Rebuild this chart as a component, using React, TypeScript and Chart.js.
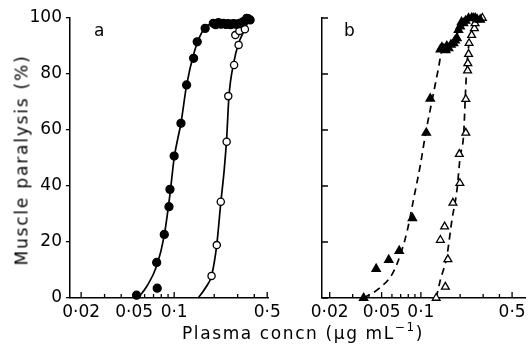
import React, { useEffect, useRef } from 'react';
import { Chart, registerables } from 'chart.js';
Chart.register(...registerables);

const FONT = "'DejaVu Sans', 'Liberation Sans', sans-serif";

// ---- axis ticks ----
const majorXTicks = [0.02, 0.05, 0.1, 0.5];
const majorXLabels = ['0·02', '0·05', '0·1', '0·5'];
const minorXTicks = [0.03, 0.04, 0.06, 0.07, 0.08, 0.09, 0.2, 0.3, 0.4];
const yTicks = [0, 20, 40, 60, 80, 100];
const aXRange = [0.0165, 0.507];
const bXRange = [0.01746, 0.638];

// ---- panel a : filled circles ----
const aFilledX = [0.0522, 0.0746, 0.0739, 0.0843, 0.0914, 0.093, 0.1, 0.1125, 0.124, 0.14, 0.149, 0.171, 0.197, 0.205, 0.215, 0.225, 0.234, 0.245, 0.255, 0.265, 0.278, 0.29, 0.303, 0.315, 0.331, 0.351, 0.372];
const aFilledY = [1, 3.5, 12.7, 22.7, 32.6, 38.8, 50.7, 62.4, 76.1, 85.6, 91.5, 96.3, 98.1, 97.6, 98.3, 97.8, 98.1, 97.7, 98, 97.6, 98, 97.8, 97.9, 98.2, 98.7, 99.9, 99.3];
// ---- panel a : open circles ----
const aOpenX = [0.191, 0.209, 0.224, 0.248, 0.255, 0.282, 0.288, 0.305, 0.309, 0.34, 0.36];
const aOpenY = [7.9, 18.9, 34.4, 55.8, 72.1, 83.2, 93.9, 90.4, 95.4, 96, 99.9];
// ---- panel a : fitted curves ----
const aFilledCurveX = [0.0535, 0.062, 0.074, 0.084, 0.093, 0.1, 0.113, 0.124, 0.142, 0.16, 0.18, 0.22, 0.3, 0.37];
const aFilledCurveY = [0, 4, 11.5, 22, 37, 50, 63, 76, 88, 94.5, 97.5, 98, 98.3, 100];
const aOpenCurveX = [0.152, 0.171, 0.191, 0.209, 0.224, 0.238, 0.248, 0.258, 0.28, 0.305, 0.34, 0.365];
const aOpenCurveY = [0, 3.5, 8, 19, 34, 46, 57, 72, 84, 91, 96, 99.5];

// ---- panel b : filled triangles ----
const bFilledX = [0.0364, 0.0454, 0.0567, 0.0682, 0.0861, 0.11, 0.118, 0.141, 0.145, 0.15, 0.155, 0.158, 0.163, 0.17, 0.178, 0.183, 0.189, 0.194, 0.2, 0.205, 0.212, 0.22, 0.232, 0.245, 0.252, 0.261, 0.27, 0.285];
const bFilledY = [0, 10.4, 13.6, 16.8, 28.5, 59, 71.2, 88.8, 89.5, 89, 88.5, 90, 89.2, 90.5, 91, 92, 92.8, 95.7, 97, 98.5, 98.1, 99, 99.9, 100, 100, 100, 99.5, 99.4];
// ---- panel b : open triangles ----
const bOpenX = [0.131, 0.154, 0.161, 0.141, 0.152, 0.176, 0.199, 0.197, 0.221, 0.221, 0.228, 0.229, 0.232, 0.234, 0.245, 0.257, 0.26, 0.296];
const bOpenY = [0, 4, 13.8, 20.7, 25.5, 34, 41, 51.4, 59, 71, 81.2, 83.8, 87.1, 91, 93.9, 96.3, 98.1, 100];
// ---- panel b : fitted dashed curves ----
const bFilledCurveX = [0.0364, 0.0481, 0.0607, 0.0703, 0.0788, 0.0887, 0.0995, 0.1087, 0.122, 0.137, 0.145, 0.17, 0.2, 0.23, 0.26];
const bFilledCurveY = [0, 3.5, 8.8, 16, 24.3, 36.2, 48, 58.8, 70.7, 82.6, 88.6, 91, 96, 99, 100];
const bOpenCurveX = [0.131, 0.141, 0.158, 0.173, 0.189, 0.2, 0.213, 0.219, 0.225, 0.234, 0.26, 0.296];
const bOpenCurveY = [0, 6.4, 14.8, 27.9, 38.6, 50.5, 58.8, 71.9, 82.6, 91, 98, 100];

const pts = (xs: number[], ys: number[]) => xs.map((x, i) => ({ x, y: ys[i] }));

const innerTicks = {
  id: 'innerTicks',
  afterDraw(chart: any, _args: any, opts: any) {
    const { ctx, chartArea } = chart;
    const xs = chart.scales.x;
    const ys = chart.scales.y;
    ctx.save();
    ctx.strokeStyle = '#000';
    ctx.lineWidth = 1.3;
    ctx.beginPath();
    xs.ticks.forEach((t: any) => {
      const px = xs.getPixelForValue(t.value);
      const len = majorXTicks.includes(t.value) ? 6 : 4;
      ctx.moveTo(px, chartArea.bottom);
      ctx.lineTo(px, chartArea.bottom - len);
    });
    if (opts && opts.yInside) {
      ys.ticks.forEach((t: any) => {
        const py = ys.getPixelForValue(t.value);
        ctx.moveTo(chartArea.left, py);
        ctx.lineTo(chartArea.left + 6, py);
      });
    }
    ctx.stroke();
    ctx.restore();
  },
};

function makeOptions(range: number[], showY: boolean, yWidth: number, padRight: number) {
  return {
    animation: false,
    responsive: false,
    maintainAspectRatio: false,
    layout: { padding: { left: 0, right: padRight, top: 18, bottom: 22 } },
    plugins: {
      legend: { display: false },
      tooltip: { enabled: false },
      innerTicks: { yInside: !showY },
    },
    scales: {
      x: {
        type: 'logarithmic',
        min: range[0],
        max: range[1],
        grid: { display: false, drawTicks: false },
        border: { display: true, color: '#000', width: 1.5 },
        ticks: {
          autoSkip: false,
          maxRotation: 0,
          padding: 4,
          color: '#000',
          font: { family: FONT, size: 17 },
          callback: (v: number) => {
            const i = majorXTicks.findIndex((m) => Math.abs(m - v) < 1e-9);
            return i >= 0 ? majorXLabels[i] : '';
          },
        },
        afterBuildTicks: (s: any) => {
          s.ticks = [...majorXTicks, ...minorXTicks].sort((p, q) => p - q).map((v) => ({ value: v }));
        },
        afterFit: (s: any) => {
          s.height = 30;
        },
      },
      y: {
        min: 0,
        max: 100,
        afterBuildTicks: (s: any) => {
          s.ticks = yTicks.map((v) => ({ value: v }));
        },
        grid: { drawOnChartArea: false, drawTicks: showY, tickLength: 4, color: '#000', lineWidth: 1.3 },
        border: { display: true, color: '#000', width: 1.5 },
        ticks: {
          display: showY,
          padding: 4,
          color: '#000',
          font: { family: FONT, size: 17 },
        },
        afterFit: (s: any) => {
          s.width = yWidth;
        },
      },
    },
  } as any;
}

const pointSet = (data: any[], style: string, filled: boolean, radius: number) => ({
  data,
  showLine: false,
  pointStyle: style,
  pointRadius: radius,
  pointBackgroundColor: filled ? '#000' : '#fff',
  pointBorderColor: '#000',
  pointBorderWidth: 1.3,
  clip: false,
  order: 0,
});

const curveSet = (data: any[], dashed: boolean) => ({
  data,
  showLine: true,
  pointRadius: 0,
  borderColor: '#000',
  borderWidth: 1.7,
  borderDash: dashed ? [7, 5] : [],
  cubicInterpolationMode: 'monotone',
  fill: false,
  clip: false,
  order: 1,
});

export default function App() {
  const refA = useRef<HTMLCanvasElement>(null);
  const refB = useRef<HTMLCanvasElement>(null);

  useEffect(() => {
    const chartA = new Chart(refA.current as HTMLCanvasElement, {
      type: 'scatter',
      data: {
        datasets: [
          pointSet(pts(aFilledX, aFilledY), 'circle', true, 4),
          pointSet(pts(aOpenX, aOpenY), 'circle', false, 3.6),
          curveSet(pts(aFilledCurveX, aFilledCurveY), false),
          curveSet(pts(aOpenCurveX, aOpenCurveY), false),
        ],
      } as any,
      options: makeOptions(aXRange, true, 70, 17),
      plugins: [innerTicks as any],
    });
    const chartB = new Chart(refB.current as HTMLCanvasElement, {
      type: 'scatter',
      data: {
        datasets: [
          pointSet(pts(bFilledX, bFilledY), 'triangle', true, 4.8),
          pointSet(pts(bOpenX, bOpenY), 'triangle', false, 4.5),
          curveSet(pts(bFilledCurveX, bFilledCurveY), true),
          curveSet(pts(bOpenCurveX, bOpenCurveY), true),
        ],
      } as any,
      options: makeOptions(bXRange, false, 37, 4),
      plugins: [innerTicks as any],
    });
    return () => {
      chartA.destroy();
      chartB.destroy();
    };
  }, []);

  const textStyle: React.CSSProperties = {
    position: 'absolute',
    fontFamily: FONT,
    fontSize: 17,
    lineHeight: 1,
    color: '#000',
    whiteSpace: 'nowrap',
  };

  return (
    <div style={{ position: 'absolute', left: 0, top: 0, width: 532, height: 350, background: '#fff', overflow: 'hidden' }}>
      <canvas ref={refA} width={285} height={350} style={{ position: 'absolute', left: 0, top: 0, width: 285, height: 350 }} />
      <canvas ref={refB} width={247} height={350} style={{ position: 'absolute', left: 285, top: 0, width: 247, height: 350 }} />
      <div style={{ ...textStyle, left: 94, top: 22 }}>a</div>
      <div style={{ ...textStyle, left: 344, top: 22 }}>b</div>
      <div
        style={{
          ...textStyle,
          left: 22,
          top: 160,
          letterSpacing: '1.8px',
          transform: 'translate(-50%, -50%) rotate(-90deg)',
        }}
      >
        Muscle paralysis (%)
      </div>
      <div style={{ ...textStyle, left: 182, top: 325, letterSpacing: '1.6px' }}>
        Plasma concn (μg mL<sup style={{ fontSize: 12, verticalAlign: 'top', position: 'relative', top: -4 }}>−1</sup>)
      </div>
    </div>
  );
}
